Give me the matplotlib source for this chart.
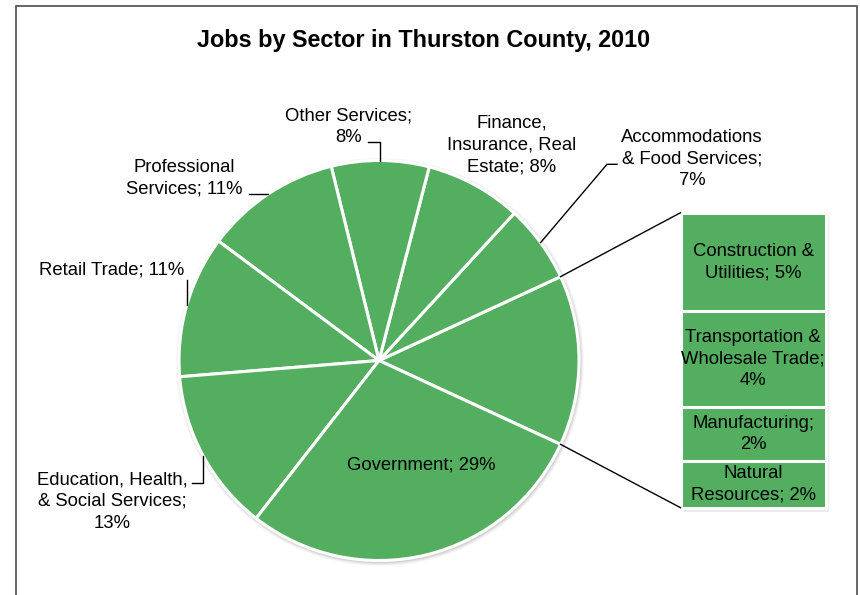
import numpy as np
import matplotlib
matplotlib.use('Agg')
import matplotlib.pyplot as plt
from matplotlib.patches import Rectangle, Circle

plt.rcParams['font.family'] = ['Liberation Sans', 'DejaVu Sans']

# ---------------- data ----------------
title = "Jobs by Sector in Thurston County, 2010"
pie_categories = ["Accommodations & Food Services", "Finance, Insurance, Real Estate",
                  "Other Services", "Professional Services", "Retail Trade",
                  "Education, Health, & Social Services", "Government"]
pie_values = [6.3, 7.8, 7.9, 11.0, 11.5, 13.2, 28.7]
pie_labels = ["Accommodations\n& Food Services;\n7%", "Finance,\nInsurance, Real\nEstate; 8%",
              "Other Services;\n8%", "Professional\nServices; 11%", "Retail Trade; 11%",
              "Education, Health,\n& Social Services;\n13%", "Government; 29%"]
bar_categories = ["Construction & Utilities", "Transportation & Wholesale Trade",
                  "Manufacturing", "Natural Resources"]
bar_values = [4.6, 4.5, 2.5, 2.2]
bar_labels = ["Construction &\nUtilities; 5%", "Transportation &\nWholesale Trade;\n4%",
              "Manufacturing;\n2%", "Natural\nResources; 2%"]

# ---------------- layout ----------------
W, H = 860, 595
fig = plt.figure(figsize=(W / 100, H / 100), dpi=100)
ax = fig.add_axes([0, 0, 1, 1])

GREEN = '#53ae5f'
FS = 13.3
LS = 1.35
cx, cy, R = 379, H - 360.5, 200

other_total = sum(bar_values)
values = [other_total] + pie_values
start = -other_total / sum(values) * 180

# soft shadow behind pie
for dr, a in [(4, 0.03), (3, 0.04), (2, 0.05), (1, 0.06)]:
    ax.add_patch(Circle((cx + 1, cy - 1.5), R + dr, color='black', alpha=a, lw=0, zorder=0.5))

wedges, _ = ax.pie(values, startangle=start, counterclock=True, center=(cx, cy), radius=R,
                   colors=[GREEN] * len(values),
                   wedgeprops=dict(edgecolor='white', linewidth=2.2))
for w in wedges:
    w.set_zorder(1)

ax.set_xlim(0, W)
ax.set_ylim(0, H)
ax.set_aspect('equal')
ax.axis('off')


def edge_pt(theta, r=R):
    t = np.deg2rad(theta)
    return cx + r * np.cos(t), cy + r * np.sin(t)


def mid(w):
    return 0.5 * (w.theta1 + w.theta2)


# ---------------- bar of pie ----------------
bx, bw = 753.3, 145.5
btop, bbot = H - 212.7, H - 507.7
scale = (btop - bbot) / other_total
heights = [v * scale for v in bar_values]
bottoms = list(btop - np.cumsum(heights))

# bar shadow
ax.add_patch(Rectangle((bx - bw / 2 + 3, bbot - 4), bw, btop - bbot, color='black',
                       alpha=0.08, lw=0, zorder=0.5))
ax.add_patch(Rectangle((bx - bw / 2 + 2, bbot - 2.5), bw, btop - bbot, color='black',
                       alpha=0.08, lw=0, zorder=0.5))
ax.bar([bx] * len(heights), heights, width=bw, bottom=bottoms, color=GREEN,
       edgecolor='white', linewidth=2.2, zorder=1)
for h, b, lab in zip(heights, bottoms, bar_labels):
    ax.text(bx, b + h / 2, lab, ha='center', va='center', fontsize=FS,
            linespacing=LS, zorder=3)

# connector lines
p_top = edge_pt(wedges[0].theta2)
p_bot = edge_pt(wedges[0].theta1)
ax.plot([p_top[0], bx - bw / 2], [p_top[1], btop], color='black', lw=1.0, zorder=2)
ax.plot([p_bot[0], bx - bw / 2], [p_bot[1], bbot], color='black', lw=1.0, zorder=2)

# ---------------- pie labels ----------------
label_pos = [(692, 159), (512, 145), (349, 127), (184, 178.5), (111.5, 270),
             (112, 501.5), (421, 465)]
for (x, y), lab in zip(label_pos, pie_labels):
    ax.text(x, H - y, lab, ha='center', va='center', fontsize=FS, linespacing=LS,
            multialignment='center', zorder=3)

LC = dict(color='black', lw=1.0, zorder=2)
# Accommodations
p = edge_pt(mid(wedges[1]))
ax.plot([p[0], 607, 617], [p[1], H - 164.3, H - 164.3], **LC)
# Other services
p = edge_pt(mid(wedges[3]))
ax.plot([368, p[0], p[0]], [H - 142, H - 142, p[1]], **LC)
# Professional
p = edge_pt(mid(wedges[4]))
ax.plot([249, p[0]], [p[1], p[1]], **LC)
# Retail
p = edge_pt(mid(wedges[5]))
ax.plot([p[0], p[0]], [H - 280, p[1]], **LC)
# Education
p = edge_pt(mid(wedges[6]))
ax.plot([192, p[0], p[0]], [H - 483, H - 483, p[1]], **LC)

# ---------------- title & frame ----------------
ax.text(424, H - 40, title, ha='center', va='center', fontsize=16.8, fontweight='bold')
ax.add_patch(Rectangle((16, -20), 841, H - 6 + 20, fill=False, edgecolor='#595959',
                       lw=1.3, zorder=4))

fig.savefig('out.png', dpi=100)
